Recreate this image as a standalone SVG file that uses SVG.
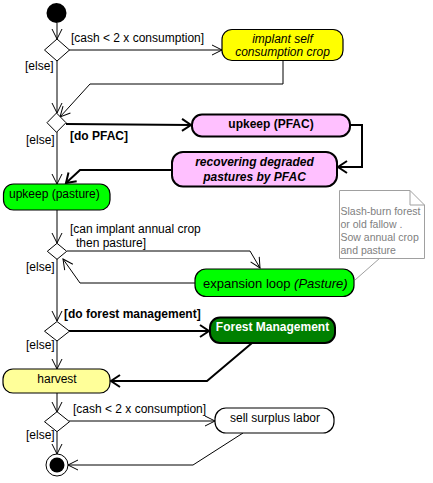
<svg xmlns="http://www.w3.org/2000/svg" width="433" height="483" viewBox="0 0 433 483">
<style>
text{font-family:"Liberation Sans",Arial,sans-serif;font-size:12px;fill:#000}
.b{font-weight:bold}
.i{font-style:italic}
.c{text-anchor:middle}
.node{stroke:#000;stroke-width:1.2}
.thk{stroke-width:2}
.ln{fill:none;stroke:#000;stroke-width:1}
.tl{fill:none;stroke:#000;stroke-width:2}
.dia{fill:#fff;stroke:#000;stroke-width:1}
.note{fill:#fff;stroke:#a0a0a0;stroke-width:1}
.nt{font-size:10.5px;fill:#808080}
</style>
<defs>
<marker id="a" markerUnits="userSpaceOnUse" markerWidth="12" markerHeight="12" refX="10" refY="5" orient="auto" viewBox="-1 -1 12 12">
<path d="M0,0 L10,5 L0,10" fill="none" stroke="#000" stroke-width="1"/>
</marker>
<marker id="at" markerUnits="userSpaceOnUse" markerWidth="14" markerHeight="14" refX="10" refY="6" orient="auto" viewBox="-1 -1 14 14">
<path d="M1,0 L10,6 L1,12" fill="none" stroke="#000" stroke-width="2"/>
</marker>
</defs>

<g id="connectors">
<line class="ln" x1="57" y1="23" x2="57" y2="39" marker-end="url(#a)"/>
<line class="ln" x1="69" y1="50" x2="222" y2="50" marker-end="url(#a)"/>
<polyline class="ln" points="283,61 283,84 90,84 60,117" marker-end="url(#a)"/>
<line class="ln" x1="57" y1="61" x2="57" y2="113" marker-end="url(#a)"/>
<line class="tl" x1="66" y1="124" x2="191" y2="125" marker-end="url(#at)"/>
<polyline class="tl" points="350,125 362,125 362,167 338,167" marker-end="url(#at)"/>
<polyline class="tl" points="172,170 80,170 66,183" marker-end="url(#at)"/>
<line class="ln" x1="57" y1="132" x2="57" y2="184" marker-end="url(#a)"/>
<line class="ln" x1="57" y1="210" x2="57" y2="243" marker-end="url(#a)"/>
<polyline class="ln" points="67,251 250,251 260,268" marker-end="url(#a)"/>
<polyline class="ln" points="195,283 80,283 63,259" marker-end="url(#a)"/>
<line class="ln" x1="57" y1="259" x2="57" y2="321" marker-end="url(#a)"/>
<line class="tl" x1="69" y1="331" x2="209" y2="331" marker-end="url(#at)"/>
<polyline class="tl" points="252,343 207,381 111,381" marker-end="url(#at)"/>
<line class="ln" x1="57" y1="341" x2="57" y2="369" marker-end="url(#a)"/>
<line class="ln" x1="57" y1="393" x2="57" y2="412" marker-end="url(#a)"/>
<line class="ln" x1="69" y1="421" x2="215" y2="421" marker-end="url(#a)"/>
<polyline class="ln" points="243,433 193,465 68,465" marker-end="url(#a)"/>
<line class="ln" x1="57" y1="432" x2="57" y2="454" marker-end="url(#a)"/>
<line x1="380" y1="258" x2="355" y2="280" stroke="#a0a0a0" stroke-width="1"/>
</g>

<g id="labels">
<text x="71" y="42">[cash &lt; 2 x consumption]</text>
<text x="25" y="70">[else]</text>
<text x="70" y="140" class="b">[do PFAC]</text>
<text x="26" y="144">[else]</text>
<text x="70" y="233">[can implant annual crop</text>
<text x="76" y="247">then pasture]</text>
<text x="26" y="271">[else]</text>
<text x="64" y="318" class="b">[do forest management]</text>
<text x="26" y="349">[else]</text>
<text x="73" y="413">[cash &lt; 2 x consumption]</text>
<text x="26" y="439">[else]</text>
</g>

<g id="start"><circle cx="56.5" cy="13" r="10" fill="#000"/></g>
<g id="d1"><polygon class="dia" points="57,39 69.5,50 57,61 44.5,50"/></g>
<g id="d2"><polygon class="dia" points="56.5,113 66,122.7 56.5,132.3 47,122.7"/></g>
<g id="d3"><polygon class="dia" points="57,243.3 66.7,251.3 57,259.3 47.3,251.3"/></g>
<g id="d4"><polygon class="dia" points="57,321.5 69.5,331.2 57,341 44.5,331.2"/></g>
<g id="d5"><polygon class="dia" points="57,411.7 69.5,421.7 57,431.7 44.5,421.7"/></g>

<g id="implant">
<rect class="node" x="222" y="29.5" width="121" height="31" rx="10" fill="#ffff00"/>
<text x="282.5" y="42.5" class="c i">implant self</text>
<text x="282.5" y="56" class="c i">consumption crop</text>
</g>

<g id="upkeepPFAC">
<rect class="node thk" x="192" y="114.5" width="158" height="22" rx="10" fill="#ffc0ff"/>
<text x="271" y="128" class="c b">upkeep (PFAC)</text>
</g>

<g id="recovering">
<rect class="node thk" x="172" y="152" width="165" height="34.5" rx="11" fill="#ffc0ff"/>
<text x="254.5" y="166" class="c b i">recovering degraded</text>
<text x="254.5" y="180.5" class="c b i">pastures by PFAC</text>
</g>

<g id="upkeepPasture">
<rect class="node" x="3.5" y="184" width="106.5" height="26" rx="10" fill="#00ff00"/>
<text x="9" y="197.5">upkeep (pasture)</text>
</g>

<g id="expansion">
<rect class="node" x="195" y="269" width="159" height="27.5" rx="11" fill="#00ff00"/>
<text x="203" y="288" style="font-size:13px">expansion loop <tspan class="i">(Pasture)</tspan></text>
</g>

<g id="note">
<path class="note" d="M339.5,190.5 H410 L424.5,205 V258.5 H339.5 Z"/>
<path d="M410,190.5 V205 H424.5" fill="none" stroke="#a0a0a0" stroke-width="1"/>
<text x="340.5" y="215" class="nt">Slash-burn forest</text>
<text x="340.5" y="228" class="nt">or old fallow .</text>
<text x="340.5" y="241" class="nt">Sow annual crop</text>
<text x="340.5" y="253.5" class="nt">and pasture</text>
</g>

<g id="forest">
<rect class="node thk" x="210" y="317.5" width="125" height="25.5" rx="10" fill="#008000"/>
<text x="272.5" y="331" class="c b" style="fill:#fff">Forest Management</text>
</g>

<g id="harvest">
<rect class="node" x="3" y="369" width="107" height="24" rx="10" fill="#ffff99"/>
<text x="57" y="382.5" class="c">harvest</text>
</g>

<g id="sell">
<rect class="node" x="215" y="408" width="119" height="25" rx="11" fill="#ffffff"/>
<text x="275" y="422" class="c">sell surplus labor</text>
</g>

<g id="end">
<circle cx="57" cy="465" r="11" fill="#fff" stroke="#000" stroke-width="1"/>
<circle cx="57" cy="465" r="7.5" fill="#000"/>
</g>
</svg>
